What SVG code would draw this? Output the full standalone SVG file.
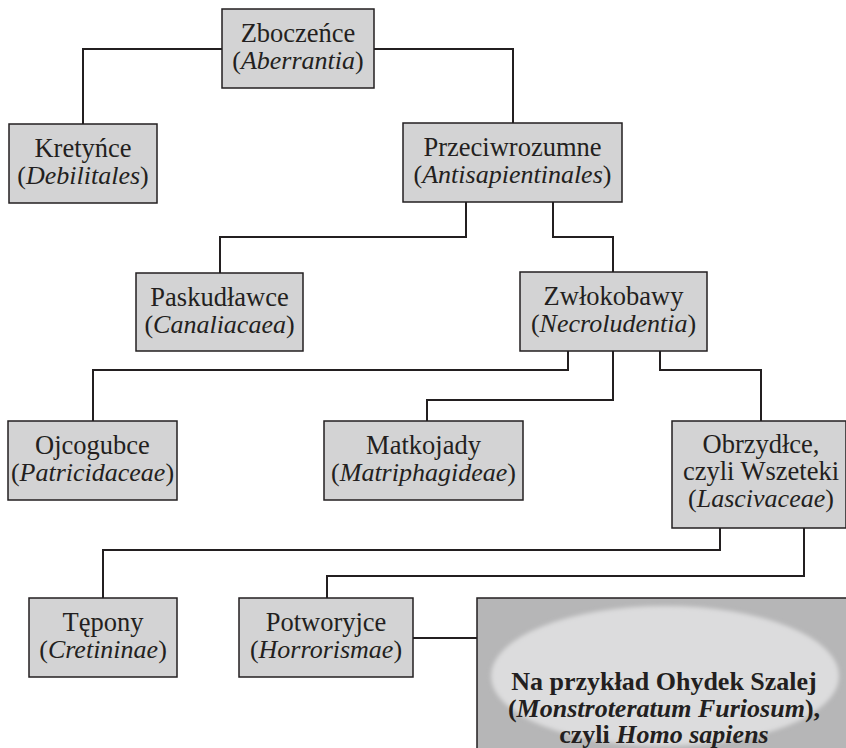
<svg xmlns="http://www.w3.org/2000/svg" width="846" height="748" viewBox="0 0 846 748">
  <style>
    .box { fill: #d3d3d4; stroke: #231f20; stroke-width: 1.5; }
    .big { fill: #b6b6b7; stroke: #231f20; stroke-width: 1.5; }
    .lbl { font-family: "Liberation Serif", "Times New Roman", serif; font-size: 26px; fill: #231f20; text-anchor: middle; }
    .up { font-size: 26.5px; }
    .bold { font-weight: bold; }
    .it { font-style: italic; }
    .wire { fill: none; stroke: #231f20; stroke-width: 2; }
  </style>
  <defs>
    <filter id="soft" x="-10%" y="-10%" width="120%" height="120%">
      <feGaussianBlur stdDeviation="2"/>
    </filter>
  </defs>

  <rect width="846" height="748" fill="#ffffff"/>

  <!-- connectors -->
  <g id="connectors">
    <polyline class="wire" points="222,49 83,49 83,124"/>
    <polyline class="wire" points="374,49 513,49 513,123"/>
    <polyline class="wire" points="466,202 466,237 220,237 220,273"/>
    <polyline class="wire" points="553,202 553,237 613,237 613,272"/>
    <polyline class="wire" points="568,351 568,370 93,370 93,421"/>
    <polyline class="wire" points="613,351 613,400 427,400 427,421"/>
    <polyline class="wire" points="660,351 660,370 761,370 761,421"/>
    <polyline class="wire" points="720,528 720,550 103,550 103,598"/>
    <polyline class="wire" points="804,528 804,576 327,576 327,598"/>
    <line class="wire" x1="413" y1="638" x2="477" y2="638"/>
  </g>

  <g id="zboczence">
    <rect class="box" x="222" y="9" width="152" height="79"/>
    <text class="lbl up" x="298" y="42">Zboczeńce</text>
    <text class="lbl" x="298" y="68.5">(<tspan class="it">Aberrantia</tspan>)</text>
  </g>

  <g id="kretynce">
    <rect class="box" x="9" y="124" width="148" height="79"/>
    <text class="lbl up" x="83" y="157">Kretyńce</text>
    <text class="lbl" x="83" y="183.5">(<tspan class="it">Debilitales</tspan>)</text>
  </g>

  <g id="przeciwrozumne">
    <rect class="box" x="403" y="123" width="219" height="79"/>
    <text class="lbl up" x="512.5" y="156">Przeciwrozumne</text>
    <text class="lbl" x="512.5" y="182.5">(<tspan class="it">Antisapientinales</tspan>)</text>
  </g>

  <g id="paskudlawce">
    <rect class="box" x="136" y="273" width="167" height="78"/>
    <text class="lbl up" x="219.5" y="306">Paskudławce</text>
    <text class="lbl" x="219.5" y="332.5">(<tspan class="it">Canaliacaea</tspan>)</text>
  </g>

  <g id="zwlokobawy">
    <rect class="box" x="520" y="272" width="187" height="79"/>
    <text class="lbl up" x="613.5" y="305">Zwłokobawy</text>
    <text class="lbl" x="613.5" y="331.5">(<tspan class="it">Necroludentia</tspan>)</text>
  </g>

  <g id="ojcogubce">
    <rect class="box" x="8" y="421" width="169" height="79"/>
    <text class="lbl up" x="92.5" y="454">Ojcogubce</text>
    <text class="lbl" x="92.5" y="480.5">(<tspan class="it">Patricidaceae</tspan>)</text>
  </g>

  <g id="matkojady">
    <rect class="box" x="324" y="421" width="199" height="79"/>
    <text class="lbl up" x="423.5" y="454">Matkojady</text>
    <text class="lbl" x="423.5" y="480.5">(<tspan class="it">Matriphagideae</tspan>)</text>
  </g>

  <g id="obrzydlce">
    <rect class="box" x="672" y="421" width="174" height="107"/>
    <text class="lbl up" x="761" y="453">Obrzydłce,</text>
    <text class="lbl up" x="761" y="480">czyli Wszeteki</text>
    <text class="lbl" x="761" y="507">(<tspan class="it">Lascivaceae</tspan>)</text>
  </g>

  <g id="tepony">
    <rect class="box" x="29" y="598" width="148" height="79"/>
    <text class="lbl up" x="103" y="631">Tępony</text>
    <text class="lbl" x="103" y="657.5">(<tspan class="it">Cretininae</tspan>)</text>
  </g>

  <g id="potworyjce">
    <rect class="box" x="239" y="598" width="174" height="79"/>
    <text class="lbl up" x="326" y="631">Potworyjce</text>
    <text class="lbl" x="326" y="657.5">(<tspan class="it">Horrorismae</tspan>)</text>
  </g>

  <g id="homo-sapiens">
    <rect class="big" x="477" y="598" width="380" height="170"/>
    <ellipse cx="665" cy="676" rx="174" ry="70" fill="#dcdcdd" filter="url(#soft)"/>
    <text class="lbl bold" x="664" y="690">Na przykład Ohydek Szalej</text>
    <text class="lbl bold" x="664" y="717">(<tspan class="it">Monstroteratum Furiosum</tspan>),</text>
    <text class="lbl bold" x="664" y="743">czyli <tspan class="it">Homo sapiens</tspan></text>
  </g>
</svg>
